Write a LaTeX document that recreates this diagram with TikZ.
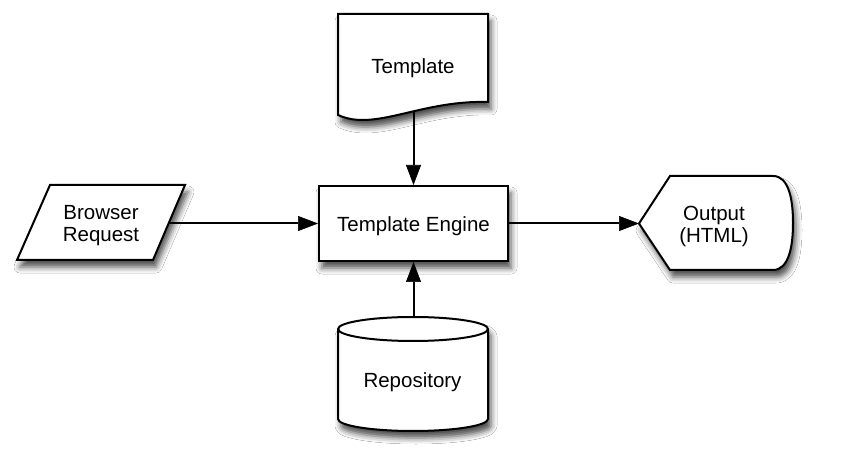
\documentclass[tikz,border=0pt]{standalone}
\usepackage{fontspec}
\setmainfont{Liberation Sans}
\usetikzlibrary{arrows.meta,shadows.blur}
\begin{document}
\begin{tikzpicture}[x=1pt,y=-1pt,
  shp/.style={draw=black, line width=2pt, fill=white, line join=miter,
    blur shadow={shadow xshift=3pt, shadow yshift=-7pt, shadow blur radius=6pt, shadow opacity=70}},
  conn/.style={draw=black, line width=2pt, -{Triangle[length=20pt,width=15pt,fill=black,line width=0.6pt]}},
  lbl/.style={font=\fontsize{20.5}{22}\selectfont, inner sep=0pt, align=center}]

\useasboundingbox[fill=white] (0,0) rectangle (844,462);

% Template (document shape)
\path[shp] (338,14) -- (488,14) -- (488,102)
  .. controls (420,100) and (375,132) .. (338,115) -- cycle;
\node[lbl, anchor=base] (tpl) at (413,73.3) {Template};
\coordinate (tplb) at (413,112);

% Template Engine
\node[shp, lbl, minimum width=189pt, minimum height=75pt,
  text height=18pt, text depth=1.6pt] (engine) at (413.5,223.5) {Template Engine};

% Browser Request (parallelogram)
\path[shp] (50,185) -- (185,185) -- (153,260) -- (17,260) -- cycle;
\node[lbl] (browser) at (101,225.6) {Browser\\Request};
\coordinate (brr) at (169,223.5);

% Output (display shape)
\path[shp] (639,223.5) -- (670,176) -- (773,176)
  .. controls (789,176) and (793,200) .. (793,223)
  .. controls (793,246) and (789,270) .. (773,270)
  -- (670,270) -- cycle;
\node[lbl] (out) at (714,226.3) {Output\\(HTML)};
\coordinate (outl) at (639,223.5);

% Repository (cylinder)
\path[shp] (338,329) -- (338,419)
  .. controls (338,425.6) and (371.6,431) .. (413,431)
  .. controls (454.4,431) and (488,425.6) .. (488,419)
  -- (488,329)
  .. controls (488,322.4) and (454.4,317) .. (413,317)
  .. controls (371.6,317) and (338,322.4) .. (338,329) -- cycle;
\draw[line width=2pt] (338,329)
  .. controls (338,335.6) and (371.6,341) .. (413,341)
  .. controls (454.4,341) and (488,335.6) .. (488,329);
\node[lbl, anchor=base] (repo) at (412.5,388) {Repository};
\coordinate (cyltop) at (413.5,317);

% Connectors
\draw[conn] (tplb -| engine.north) -- (engine.north);
\draw[conn] (cyltop) -- (engine.south);
\draw[conn] (brr) -- (engine.west);
\draw[conn] (engine.east) -- (outl);
\end{tikzpicture}
\end{document}
